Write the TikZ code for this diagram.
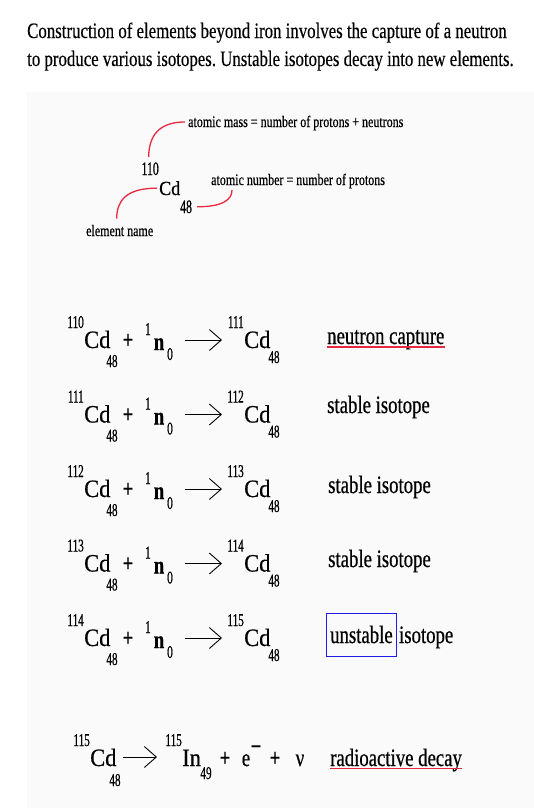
\documentclass[tikz,border=0pt]{standalone}
\usepackage{fontspec}
\setmainfont[FakeStretch=0.75,FakeBold=0.5]{Liberation Serif}
\newfontfamily\titlefont[FakeStretch=0.765,FakeBold=0.3]{Liberation Serif}
\newfontfamily\symfont[FakeStretch=0.9,FakeBold=0.6]{Liberation Serif}
\newfontfamily\numfont[FakeStretch=0.62,FakeBold=0.6]{Liberation Serif}
\usepackage{tikz}
\usetikzlibrary{calc,arrows.meta}
\definecolor{leadred}{RGB}{232,40,62}
\definecolor{boxblue}{RGB}{30,30,235}
\frenchspacing

\begin{document}
\begin{tikzpicture}[x=1pt,y=-1pt]
\tikzstyle{sym}=[inner sep=0pt,font=\symfont\fontsize{25}{25}\selectfont]
\tikzstyle{num}=[inner sep=0pt,font=\numfont\fontsize{18}{18}\selectfont]
\tikzstyle{txt}=[inner sep=0pt,font=\fontsize{25}{25}\selectfont]
\tikzstyle{note}=[inner sep=0pt,font=\fontsize{16}{16}\selectfont]
\tikzstyle{react}=[line width=0.9pt,-{Straight Barb[length=12pt,width=21pt]}]
\tikzstyle{lead}=[leadred,line width=1.3pt]

\useasboundingbox (0,0) rectangle (534,808);
\fill [black!2] (27,92) rectangle (534,808);

\node (title1) [anchor=base west,inner sep=0pt,font=\titlefont\fontsize{22}{22}\selectfont] at (27,38) {Construction of elements beyond iron involves the capture of a neutron};
\node (title2) [anchor=base west,inner sep=0pt,font=\titlefont\fontsize{22}{22}\selectfont] at (27,66) {to produce various isotopes. Unstable isotopes decay into new elements.};

% notation key
\node (keycd) [sym,font=\symfont\fontsize{20}{20}\selectfont,anchor=base west] at (159,195) {Cd};
\node (keymass) [num,font=\numfont\fontsize{19}{19}\selectfont,anchor=base east] at (159,175) {110};
\node (keyz) [num,font=\numfont\fontsize{19}{19}\selectfont,anchor=base west] at (180,213) {48};
\node (massnote) [note,anchor=base west] at (188,127) {atomic mass = number of protons + neutrons};
\node (znote) [note,anchor=base west] at (211,185) {atomic number = number of protons};
\node (namenote) [note,anchor=base west] at (86,236) {element name};

\draw [lead] ($(keymass.north)+(-1.5,-5)$) .. controls +(0,-27) and +(-20,0) .. ($(massnote.base west)+(-3,-5)$);
\draw [lead] ($(keycd.west)+(-2,0)$) .. controls +(-32,0) and +(0,-17) .. ($(namenote.north)+(-3,-6)$);
\draw [lead] ($(keyz.east)+(5,0)$) .. controls +(25,0) and +(0,10) .. ($(znote.base west)+(21,5)$);

% capture reactions
\foreach \inmass/\outmass [count=\r] in {110/111,111/112,112/113,113/114,114/115} {
  \pgfmathsetmacro{\yb}{348+74.5*(\r-1)}
  \node (ma\r) [num,anchor=base east] at (84,\yb-20) {\inmass};
  \node (ca\r) [sym,anchor=base west] at (84,\yb) {Cd};
  \node (za\r) [num,anchor=base] at (112,\yb+19) {48};
  \node (pl\r) [txt,anchor=base] at (128,\yb) {\textbf{+}};
  \node (one\r) [num,anchor=base] at (148,\yb-13) {1};
  \node (n\r) [txt,anchor=base] at (159,\yb+2) {\textbf{n}};
  \node (zero\r) [num,anchor=base] at (170,\yb+12) {0};
  \node (mb\r) [num,anchor=base east] at (244,\yb-20) {\outmass};
  \node (cb\r) [sym,anchor=base west] at (244,\yb) {Cd};
  \node (zb\r) [num,anchor=base] at (274,\yb+15) {48};
  \draw [react] ($(n\r.base east)+(21,-10)$) -- ($(cb\r.base west)+(-22,-8)$);
}

\node (capture) [txt,anchor=base west] at (327,344) {neutron capture};
\draw [lead] ($(capture.base west)+(0,3)$) -- ($(capture.base east)+(0,3)$);
\node (stable2) [txt,anchor=base west] at (327,413) {stable isotope};
\node (stable3) [txt,anchor=base west] at (328,493) {stable isotope};
\node (stable4) [txt,anchor=base west] at (328,567) {stable isotope};
\node (unstable) [txt,anchor=base west] at (330,643) {unstable};
\draw [boxblue,line width=1pt] ($(unstable.base west)+(-4,13)$) rectangle ($(unstable.base east)+(4,-30)$);
\node (isotope5) [txt,anchor=base west] at ($(unstable.base east)+(6,0)$) {isotope};

% decay
\node (decmass) [num,anchor=base east] at (90,746) {115};
\node (deccd) [sym,anchor=base west] at (90,766) {Cd};
\node (decz) [num,anchor=base] at (115,786) {48};
\node (inmass) [num,anchor=base east] at (182,746) {115};
\node (inel) [sym,anchor=base west] at (182,766) {In};
\node (inz) [num,anchor=base] at (206,779) {49};
\node (decpl1) [txt,anchor=base] at (225,766) {\textbf{+}};
\node (elec) [txt,anchor=base] at (246,766) {e};
\node (elecmin) [txt] at (256,750) {\textbf{−}};
\node (decpl2) [txt,anchor=base] at (275,766) {\textbf{+}};
\node (nu) [txt,anchor=base] at (300,766) {ν};
\draw [react] ($(deccd.base east)+(6,-9)$) -- ($(inel.base west)+(-25,-9)$);
\node (decay) [txt,anchor=base west] at (330,766) {radioactive decay};
\draw [lead] ($(decay.base west)+(0,2.5)$) -- ($(decay.base east)+(0,2.5)$);
\end{tikzpicture}
\end{document}
